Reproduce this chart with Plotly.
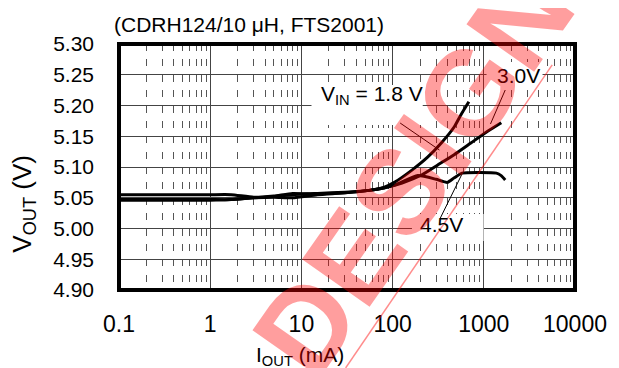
import plotly.graph_objects as go

# ---------------- data ----------------
I_18 = [0.1, 0.5, 1.0, 1.7, 3, 5, 8, 15, 30, 55, 80, 107, 163, 242, 342, 473, 562, 686]
V_18 = [5.046, 5.046, 5.046, 5.047, 5.050, 5.052, 5.055, 5.057, 5.059, 5.062, 5.067, 5.076, 5.095, 5.116, 5.139, 5.165, 5.185, 5.206]

I_30 = [0.1, 0.5, 1.0, 1.7, 3, 5, 8, 15, 30, 55, 80, 127, 208, 310, 473, 721, 1072, 1556]
V_30 = [5.047, 5.047, 5.047, 5.047, 5.050, 5.051, 5.050, 5.055, 5.058, 5.062, 5.066, 5.074, 5.087, 5.103, 5.120, 5.139, 5.157, 5.172]

I_45 = [0.1, 0.5, 1.0, 1.7, 3, 5, 8, 15, 30, 55, 80, 107, 189, 300, 397, 470, 577, 900, 1374, 1550, 1718]
V_45 = [5.055, 5.055, 5.055, 5.055, 5.051, 5.053, 5.057, 5.056, 5.058, 5.062, 5.066, 5.071, 5.086, 5.080, 5.075, 5.082, 5.090, 5.091, 5.090, 5.086, 5.079]

x_tickvals = [0.1, 1, 10, 100, 1000, 10000]
x_ticktext = ["0.1", "1", "10", "100", "1000", "10000"]
y_tickvals = [4.90, 4.95, 5.00, 5.05, 5.10, 5.15, 5.20, 5.25, 5.30]

title_text = "(CDRH124/10 μH, FTS2001)"
xlabel = "I<sub>OUT</sub> (mA)"
ylabel = "V<sub>OUT</sub> (V)"

FONT = "Liberation Sans, Arial, sans-serif"

fig = go.Figure()
for xs, ys in [(I_18, V_18), (I_30, V_30), (I_45, V_45)]:
    fig.add_trace(go.Scatter(x=xs, y=ys, mode="lines",
                             line=dict(color="black", width=3, shape="spline", smoothing=0.5),
                             showlegend=False, hoverinfo="skip"))

shapes = []
# white label boxes (cover grid, under traces)
for x0, x1, y0, y1 in [(12.9, 214, 5.1683, 5.2333),
                       (1072, 4406, 5.2317, 5.2707),
                       (163, 995, 4.9797, 5.0236)]:
    shapes.append(dict(type="rect", xref="x", yref="y", x0=x0, x1=x1, y0=y0, y1=y1,
                       fillcolor="white", line=dict(width=0), layer="between"))
# pointer lines
for x0, y0, x1, y1 in [(121, 5.1715, 326, 5.1276),
                       (1718, 5.2252, 1183, 5.1699),
                       (334, 5.0171, 577, 5.0886)]:
    shapes.append(dict(type="line", xref="x", yref="y", x0=x0, y0=y0, x1=x1, y1=y1,
                       line=dict(color="black", width=1), layer="above"))
# frame
shapes.append(dict(type="rect", xref="paper", yref="paper", x0=0, x1=1, y0=0, y1=1,
                   line=dict(color="black", width=4), layer="above"))
# watermark thin line
shapes.append(dict(type="line", xref="paper", yref="paper", x0=0.950, y0=0.915, x1=0.497, y1=-0.317,
                   line=dict(color="rgba(255,0,0,0.45)", width=1.5), layer="above"))

annotations = [
    dict(text=title_text, xref="paper", yref="paper", x=-0.015, y=1.081, xanchor="left", yanchor="middle",
         showarrow=False, font=dict(size=21, color="black", family=FONT)),
    dict(text=xlabel, xref="paper", yref="paper", x=0.398, y=-0.268, xanchor="center", yanchor="middle",
         showarrow=False, font=dict(size=21, color="black", family=FONT)),
    dict(text=ylabel, xref="paper", yref="paper", x=-0.209, y=0.3496, xanchor="center", yanchor="middle",
         textangle=-90, showarrow=False, font=dict(size=26, color="black", family=FONT)),
    dict(text="V<sub>IN</sub> = 1.8 V", xref="x", yref="y", x=1.1875, y=5.217, xanchor="left", yanchor="middle",
         showarrow=False, font=dict(size=21, color="black", family=FONT)),
    dict(text="3.0V", xref="x", yref="y", x=3.12, y=5.2496, xanchor="left", yanchor="middle",
         showarrow=False, font=dict(size=21, color="black", family=FONT)),
    dict(text="4.5V", xref="x", yref="y", x=2.276, y=5.0057, xanchor="left", yanchor="middle",
         showarrow=False, font=dict(size=21, color="black", family=FONT)),
    dict(text="<b>DESIGN</b>", xref="paper", yref="paper", x=0.644, y=0.480, xanchor="center", yanchor="middle",
         textangle=-55, showarrow=False, font=dict(size=120, color="rgba(255,0,0,0.38)", family=FONT)),
]

# the page body has an 8px margin, so the figure is sized/offset to compensate
fig.update_layout(
    width=611, height=360, autosize=False,
    margin=dict(l=111, r=36, t=36, b=78, pad=0),
    paper_bgcolor="white", plot_bgcolor="white",
    font=dict(family=FONT, color="black"),
    shapes=shapes, annotations=annotations,
    xaxis=dict(type="log", range=[-1, 4], tickvals=x_tickvals, ticktext=x_ticktext,
               showgrid=True, gridcolor="#444444", gridwidth=1, zeroline=False, showline=False,
               ticks="", tickfont=dict(size=23, color="black", family=FONT), ticklabelstandoff=18,
               minor=dict(dtick="D1", showgrid=True, gridcolor="#555555", gridwidth=1,
                          griddash="7px,8.375px", ticks="")),
    yaxis=dict(range=[4.90, 5.30], tickvals=y_tickvals, tickformat=".2f",
               showgrid=True, gridcolor="#444444", gridwidth=1, zeroline=False, showline=False,
               ticks="", tickfont=dict(size=21, color="black", family=FONT), ticklabelstandoff=24),
)

fig.write_html("out.html")
